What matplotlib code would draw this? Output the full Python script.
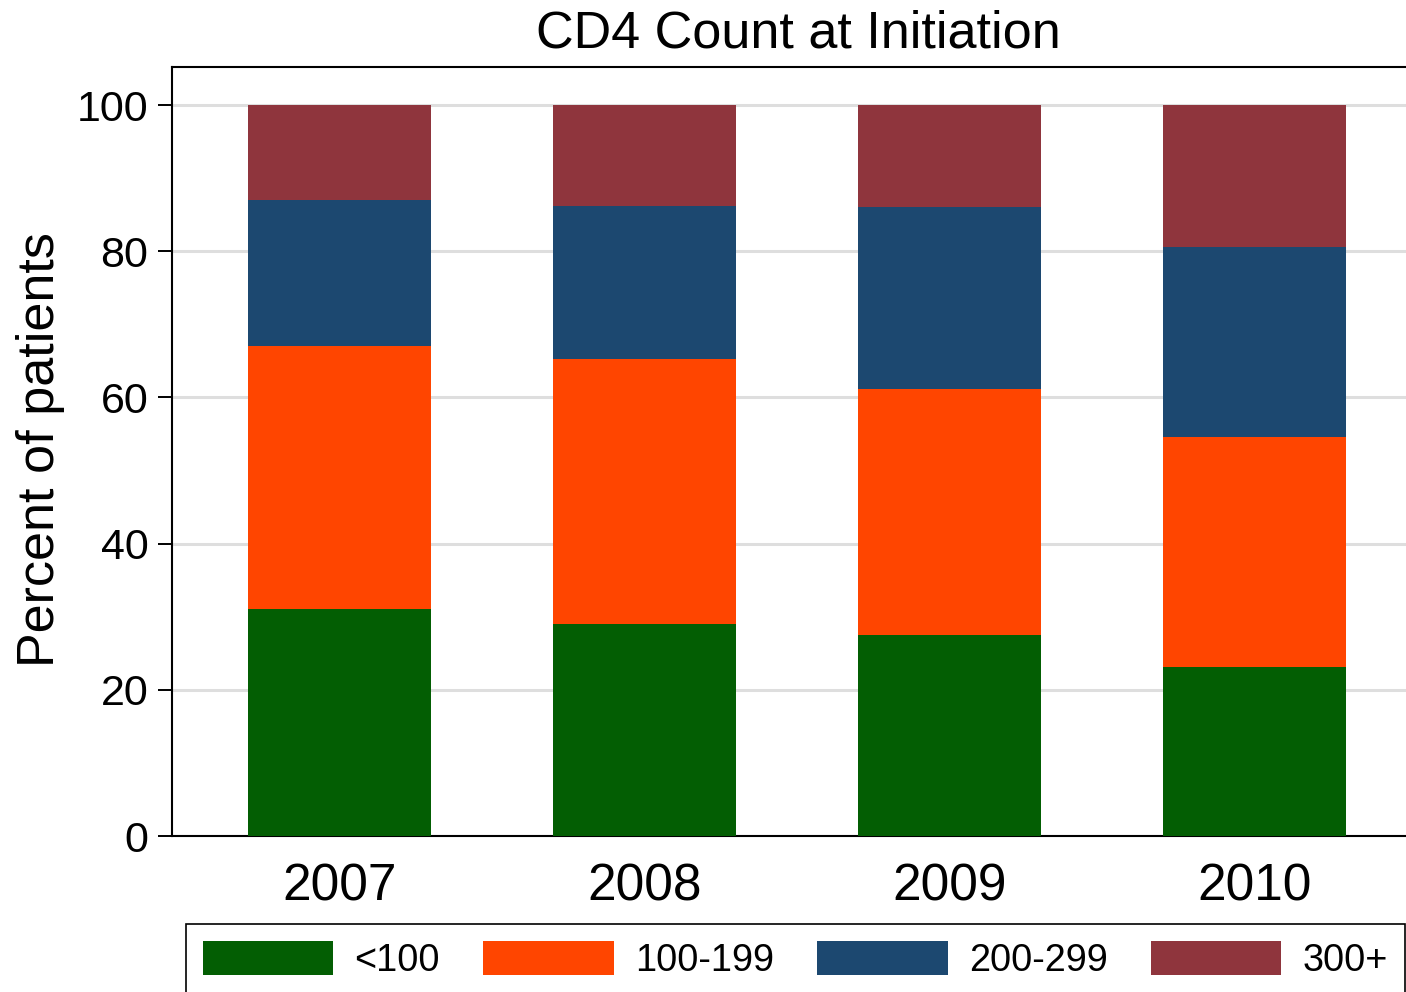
import matplotlib
matplotlib.use("Agg")
import matplotlib.pyplot as plt
import numpy as np
from matplotlib.patches import Patch

plt.rcParams['font.family'] = ['Liberation Sans', 'DejaVu Sans']

# data (percent of patients per CD4 band)
years = ['2007', '2008', '2009', '2010']
lt100 = [31.0, 29.0, 27.5, 23.1]
c100_199 = [36.0, 36.2, 33.6, 31.5]
c200_299 = [20.0, 21.0, 24.9, 26.0]
c300plus = [13.0, 13.8, 14.0, 19.4]

labels = ['<100', '100-199', '200-299', '300+']
colors = ['#035E03', '#FF4500', '#1C4870', '#8F353D']
series = [lt100, c100_199, c200_299, c300plus]

W, H = 1406, 992
fig = plt.figure(figsize=(W / 100, H / 100), dpi=100)
ax = fig.add_axes([172 / W, 1 - 836 / H, 1 - 172 / W, (836 - 67) / H])

x = np.arange(len(years))
bottom = np.zeros(len(years))
for vals, col, lab in zip(series, colors, labels):
    ax.bar(x, vals, width=0.6, bottom=bottom, color=col, label=lab, zorder=3)
    bottom += np.array(vals)

ax.set_xlim(-0.549, 3.498)
ax.set_ylim(0, 105.2)
ax.set_yticks([0, 20, 40, 60, 80, 100])
ax.set_xticks(x)
ax.set_xticklabels(years)

ax.yaxis.grid(True, color='#DEDEDE', lw=2.2, zorder=0)
ax.set_axisbelow(True)

for s in ['left', 'top', 'bottom']:
    ax.spines[s].set_linewidth(1.5)
    ax.spines[s].set_color('black')
ax.spines['right'].set_visible(False)

ax.tick_params(axis='y', length=10, width=1.4, pad=7, labelsize=31)
ax.tick_params(axis='x', length=0, pad=19, labelsize=37)

ax.set_ylabel('Percent of patients', fontsize=37.5)
ax.yaxis.set_label_coords(-0.087, 0.503)

ax.set_title('CD4 Count at Initiation', fontsize=37.5, pad=14, x=0.5077)

handles = [Patch(facecolor=c, edgecolor='none') for c in colors]
leg = fig.legend(handles, labels, loc='upper left',
                 bbox_to_anchor=(186 / W, 1 - 924 / H), ncol=4,
                 fontsize=27.3, frameon=True, fancybox=False,
                 edgecolor='black', framealpha=1, borderaxespad=0,
                 handlelength=3.44, handleheight=1.0, handletextpad=0.55,
                 columnspacing=1.15, borderpad=0.45)
leg.get_frame().set_linewidth(1.2)

fig.savefig('out.png', dpi=100)
